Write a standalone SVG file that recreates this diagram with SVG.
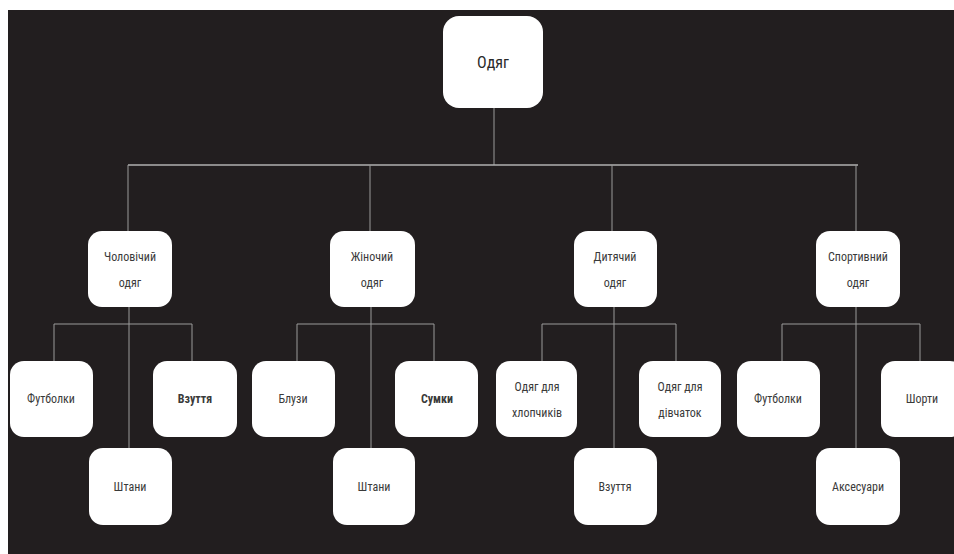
<svg xmlns="http://www.w3.org/2000/svg" width="954" height="554" viewBox="0 0 954 554">
<style>
.bg{fill:#221e1f}
.n rect{fill:#ffffff}
.n text{font-family:"Liberation Sans Narrow","Roboto Condensed","Roboto",sans-serif;font-size:12px;fill:#3a3a3a;text-anchor:middle;dominant-baseline:central}
.n text.root{font-size:16px;fill:#2a2a2a}
.n text.b{font-weight:bold}
.c line{stroke:#9a9a9a;stroke-width:1}
.c line.bus{stroke:#b0b0b0;stroke-width:1.6}
</style>
<rect width="954" height="554" fill="#ffffff"/>
<rect class="bg" x="8" y="10" width="946" height="544"/>
<g class="c" id="connectors">
<line x1="494" y1="108" x2="494" y2="165"/>
<line class="bus" x1="128" y1="165" x2="858" y2="165"/>
<line x1="128" y1="165" x2="128" y2="231"/>
<line x1="370" y1="165" x2="370" y2="231"/>
<line x1="612" y1="165" x2="612" y2="231"/>
<line x1="856" y1="165" x2="856" y2="231"/>
<line x1="129" y1="307" x2="129" y2="448"/>
<line x1="54" y1="324" x2="192" y2="324"/>
<line x1="54" y1="324" x2="54" y2="361"/>
<line x1="192" y1="324" x2="192" y2="361"/>
<line x1="371" y1="307" x2="371" y2="448"/>
<line x1="297" y1="324" x2="434" y2="324"/>
<line x1="297" y1="324" x2="297" y2="361"/>
<line x1="434" y1="324" x2="434" y2="361"/>
<line x1="614" y1="307" x2="614" y2="448"/>
<line x1="542" y1="324" x2="676" y2="324"/>
<line x1="542" y1="324" x2="542" y2="361"/>
<line x1="676" y1="324" x2="676" y2="361"/>
<line x1="856" y1="307" x2="856" y2="448"/>
<line x1="782" y1="324" x2="920" y2="324"/>
<line x1="782" y1="324" x2="782" y2="361"/>
<line x1="920" y1="324" x2="920" y2="361"/>
</g>
<g class="n" id="root"><rect x="443" y="16" width="100" height="92" rx="16"/><text class="root" x="493" y="62">Одяг</text></g>
<g class="n" id="men"><rect x="88" y="231" width="84" height="76" rx="14"/><text x="130" y="257">Чоловічий</text><text x="130" y="283">одяг</text></g>
<g class="n" id="women"><rect x="330" y="231" width="85" height="76" rx="14"/><text x="372" y="257">Жіночий</text><text x="372" y="283">одяг</text></g>
<g class="n" id="kids"><rect x="574" y="231" width="83" height="76" rx="14"/><text x="615" y="257">Дитячий</text><text x="615" y="283">одяг</text></g>
<g class="n" id="sport"><rect x="816" y="231" width="84" height="76" rx="14"/><text x="858" y="257">Спортивний</text><text x="858" y="283">одяг</text></g>
<g class="n" id="men-tshirts"><rect x="10" y="361" width="83" height="76" rx="14"/><text x="51" y="399">Футболки</text></g>
<g class="n" id="men-shoes"><rect x="153" y="361" width="84" height="76" rx="14"/><text class="b" x="195" y="399">Взуття</text></g>
<g class="n" id="men-pants"><rect x="89" y="448" width="83" height="77" rx="14"/><text x="130" y="487">Штани</text></g>
<g class="n" id="women-blouses"><rect x="252" y="361" width="83" height="76" rx="14"/><text x="293" y="399">Блузи</text></g>
<g class="n" id="women-bags"><rect x="395" y="361" width="83" height="76" rx="14"/><text class="b" x="437" y="399">Сумки</text></g>
<g class="n" id="women-pants"><rect x="333" y="448" width="82" height="77" rx="14"/><text x="374" y="487">Штани</text></g>
<g class="n" id="kids-boys"><rect x="496" y="361" width="81" height="76" rx="14"/><text x="537" y="387">Одяг для</text><text x="537" y="413">хлопчиків</text></g>
<g class="n" id="kids-girls"><rect x="639" y="361" width="82" height="76" rx="14"/><text x="680" y="387">Одяг для</text><text x="680" y="413">дівчаток</text></g>
<g class="n" id="kids-shoes"><rect x="574" y="448" width="83" height="77" rx="14"/><text x="615" y="487">Взуття</text></g>
<g class="n" id="sport-tshirts"><rect x="737" y="361" width="83" height="76" rx="14"/><text x="778" y="399">Футболки</text></g>
<g class="n" id="sport-shorts"><rect x="881" y="361" width="83" height="76" rx="14"/><text x="922" y="399">Шорти</text></g>
<g class="n" id="sport-acc"><rect x="816" y="448" width="84" height="77" rx="14"/><text x="858" y="487">Аксесуари</text></g>
</svg>
